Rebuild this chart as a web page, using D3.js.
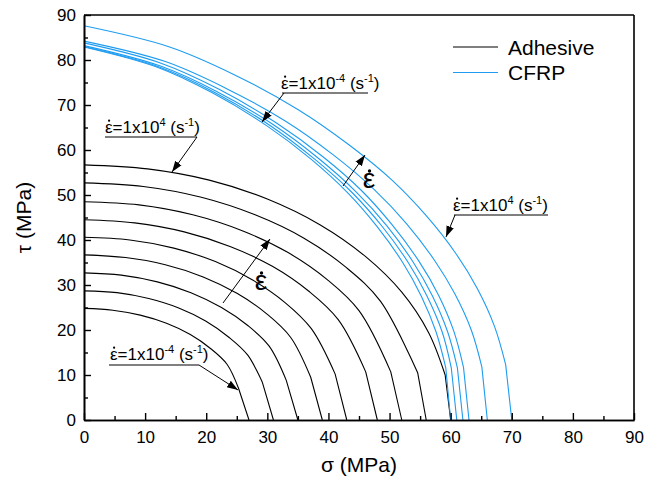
<!DOCTYPE html>
<html><head><meta charset="utf-8">
<script src="https://cdn.jsdelivr.net/npm/d3@7"></script>
<style>
body{margin:0;background:#fff;}
svg{display:block;}
text{font-family:"Liberation Sans",Arial,sans-serif;fill:#000;}
</style></head>
<body>
<svg id="c" width="662" height="484"></svg>
<script>
// ---- data ----
const xTickValues = [0,10,20,30,40,50,60,70,80,90];
const yTickValues = [0,10,20,30,40,50,60,70,80,90];
const seriesNames = ["Adhesive","CFRP"];

// Adhesive failure envelopes (σ, τ in MPa), strain rate 1e-4 ... 1e4 s^-1
const adhesiveSigma = [
  [0,4.7,9.2,13.5,17.4,20.7,23.4,25.3,27],
  [0,5.4,10.6,15.5,19.9,23.7,26.8,29.2,31],
  [0,6.1,12.0,17.5,22.5,26.8,30.3,33.1,35],
  [0,6.8,13.3,19.5,25.1,29.9,33.8,37.1,39],
  [0,7.5,14.7,21.5,27.6,32.9,37.2,41.1,43],
  [0,8.3,16.4,24.0,30.9,36.8,41.6,46.1,48],
  [0,9.0,17.8,26.0,33.4,39.8,45.0,50.2,52],
  [0,9.7,19.2,28.0,36.0,42.9,48.5,54.6,56],
  [0,10.4,20.5,30.0,38.6,46.0,52.0,56.4,59.1,60]
];
const adhesiveTau = [
  [24.8,24.4,23.3,21.5,19.0,15.9,12.4,7.0,0],
  [28.7,28.3,27.0,24.9,22.0,18.4,14.4,8.3,0],
  [32.7,32.2,30.7,28.3,25.0,21.0,16.4,8.8,0],
  [36.7,36.1,34.5,31.8,28.1,23.6,18.4,9.5,0],
  [40.6,40.0,38.2,35.2,31.1,26.1,20.3,10.2,0],
  [44.5,43.8,41.8,38.5,34.1,28.6,22.3,10.7,0],
  [48.5,47.8,45.6,42.0,37.2,31.2,24.3,10.7,0],
  [52.7,51.9,49.5,45.6,40.4,33.9,26.4,10.5,0],
  [56.7,55.8,53.3,49.1,43.4,36.4,28.4,19.4,10.0,0]
];
// CFRP failure envelopes
const cfrpSigma = [
  [0,12.0,21.0,30.0,37.2,43.2,48.0,52.2,55.2,57.6,59.2,60],
  [0,12.2,21.4,30.5,37.8,43.9,48.8,53.1,56.1,58.6,60.1,61],
  [0,12.4,21.7,31.0,38.4,44.6,49.6,53.9,57.0,59.5,61.1,62],
  [0,12.6,22.1,31.5,39.1,45.4,50.4,54.8,58.0,60.5,62.1,63],
  [0,13.2,23.1,33.0,40.9,47.5,52.8,57.4,60.7,63.4,65.1,66],
  [0,14.0,24.5,35.0,43.4,50.4,56.0,60.9,64.4,67.2,69.0,70]
];
const cfrpTau = [
  [82.9,78.4,72.7,65.3,57.9,50.4,42.9,34.9,27.5,19.6,11.6,0],
  [83.0,78.5,72.8,65.4,57.9,50.5,43.0,34.9,27.6,19.6,11.6,0],
  [83.2,78.7,73.0,65.6,58.1,50.6,43.1,35.0,27.6,19.6,11.6,0],
  [83.8,79.3,73.5,66.0,58.5,51.0,43.4,35.3,27.8,19.8,11.7,0],
  [84.2,79.7,73.8,66.4,58.8,51.2,43.6,35.4,28.0,19.9,11.8,0],
  [87.6,82.9,76.8,69.0,61.1,53.3,45.4,36.9,29.1,20.7,12.3,0]
];

// ---- layout ----
const W=662,H=484;
const m={l:84,r:28,t:15,b:64};
const svg=d3.select("#c");
const x=d3.scaleLinear().domain([0,90]).range([m.l,W-m.r]);
const y=d3.scaleLinear().domain([0,90]).range([H-m.b,m.t]);
const BLACK="#000", BLUE="#1e9cf0";

const smooth=d3.line().x(d=>x(d[0])).y(d=>y(d[1])).curve(d3.curveCatmullRom.alpha(0.5));
function envelope(s,t){
  const p=s.map((v,i)=>[v,t[i]]);
  const last=p[p.length-1];
  return smooth(p.slice(0,-1))+"L"+x(last[0])+","+y(last[1]);
}

svg.append("defs").append("marker").attr("id","ah")
  .attr("viewBox","0 0 10 10").attr("refX",10).attr("refY",5)
  .attr("markerWidth",11).attr("markerHeight",11).attr("markerUnits","userSpaceOnUse")
  .attr("orient","auto")
  .append("path").attr("d","M0,1.5L10,5L0,8.5Z").attr("fill","#000");

const g=svg.append("g");
adhesiveSigma.forEach((s,i)=>{
  g.append("path").attr("d",envelope(s,adhesiveTau[i])).attr("fill","none")
   .attr("stroke",BLACK).attr("stroke-width",1.1);
});
cfrpSigma.forEach((s,i)=>{
  g.append("path").attr("d",envelope(s,cfrpTau[i])).attr("fill","none")
   .attr("stroke",BLUE).attr("stroke-width",1.1);
});

// frame
svg.append("line").attr("x1",x(0)).attr("x2",x(90)).attr("y1",y(90)).attr("y2",y(90)).attr("stroke","#000").attr("stroke-width",1.6);
svg.append("line").attr("x1",x(90)).attr("x2",x(90)).attr("y1",y(0)).attr("y2",y(90)).attr("stroke","#000").attr("stroke-width",1.6);

// axes
const minor=d3.range(5,90,10);
const xa=svg.append("g").attr("transform",`translate(0,${y(0)})`)
  .call(d3.axisBottom(x).tickValues(xTickValues).tickSizeInner(-7).tickSizeOuter(0).tickPadding(11));
const xm=svg.append("g").attr("transform",`translate(0,${y(0)})`)
  .call(d3.axisBottom(x).tickValues(minor).tickSizeInner(-4).tickSizeOuter(0).tickFormat(""));
const ya=svg.append("g").attr("transform",`translate(${x(0)},0)`)
  .call(d3.axisLeft(y).tickValues(yTickValues).tickSizeInner(-7).tickSizeOuter(0).tickPadding(8));
const ym=svg.append("g").attr("transform",`translate(${x(0)},0)`)
  .call(d3.axisLeft(y).tickValues(minor).tickSizeInner(-4).tickSizeOuter(0).tickFormat(""));
[xa,xm,ya,ym].forEach(a=>{
  a.select(".domain").attr("stroke","#000").attr("stroke-width",1.6);
  a.selectAll(".tick line").attr("stroke","#000").attr("stroke-width",1.4);
  a.selectAll("text").attr("font-size",17).attr("font-family","Liberation Sans, Arial, sans-serif").attr("fill","#000");
});

// axis titles
svg.append("text").attr("x",(x(0)+x(90))/2).attr("y",472).attr("text-anchor","middle")
  .attr("font-size",21).text("σ (MPa)");
svg.append("text").attr("transform",`translate(31,${(y(0)+y(90))/2}) rotate(-90)`)
  .attr("text-anchor","middle").attr("font-size",21).text("τ (MPa)");

// legend
const legY=[47,72.5];
seriesNames.forEach((n,i)=>{
  svg.append("line").attr("x1",453).attr("x2",498).attr("y1",legY[i]).attr("y2",legY[i])
    .attr("stroke",i?BLUE:BLACK).attr("stroke-width",1.1);
  svg.append("text").attr("x",508).attr("y",legY[i]+7.5).attr("font-size",21).text(n);
});

// rate labels
function rateLabel(tx,ty,exp,ux1,ux2,uy,lx,ly,tipx,tipy){
  const t=svg.append("text").attr("x",tx).attr("y",ty).attr("font-size",17);
  t.append("tspan").text("ε=1x10");
  t.append("tspan").attr("dy",-7).attr("font-size",11).text(exp);
  t.append("tspan").attr("dy",7).text(" (s");
  t.append("tspan").attr("dy",-7).attr("font-size",11).text("-1");
  t.append("tspan").attr("dy",7).text(")");
  const w=t.node().getSubStringLength(0,1);
  svg.append("circle").attr("cx",tx+w/2+0.3).attr("cy",ty-12.3).attr("r",1.1).attr("fill","#000");
  svg.append("line").attr("x1",ux1).attr("x2",ux2).attr("y1",uy).attr("y2",uy).attr("stroke","#000").attr("stroke-width",1);
  svg.append("line").attr("x1",lx).attr("y1",ly).attr("x2",tipx).attr("y2",tipy)
    .attr("stroke","#000").attr("stroke-width",1).attr("marker-end","url(#ah)");
}
rateLabel(281,89,"-4",282,368,93,284,93,262,122);
rateLabel(105,133,"4",105,197,137,197,137,172,172);
rateLabel(110,360,"-4",109,199,365,199,365,238,390);
rateLabel(453,211,"4",454,548,215,455,215,446,237);

// strain-rate direction arrows
function rateArrow(x1,y1,x2,y2,tx,ty){
  svg.append("line").attr("x1",x1).attr("y1",y1).attr("x2",x2).attr("y2",y2)
    .attr("stroke","#000").attr("stroke-width",1).attr("marker-end","url(#ah)");
  svg.append("text").attr("x",tx).attr("y",ty).attr("font-size",28)
    .attr("font-family","Liberation Serif, Times New Roman, serif").attr("text-anchor","middle").text("ε");
  svg.append("circle").attr("cx",tx+0.5).attr("cy",ty-17).attr("r",1.7).attr("fill","#000");
}
rateArrow(223,303,270,239,261,290);
rateArrow(343,186,365,155,369,188);
</script>
</body></html>
